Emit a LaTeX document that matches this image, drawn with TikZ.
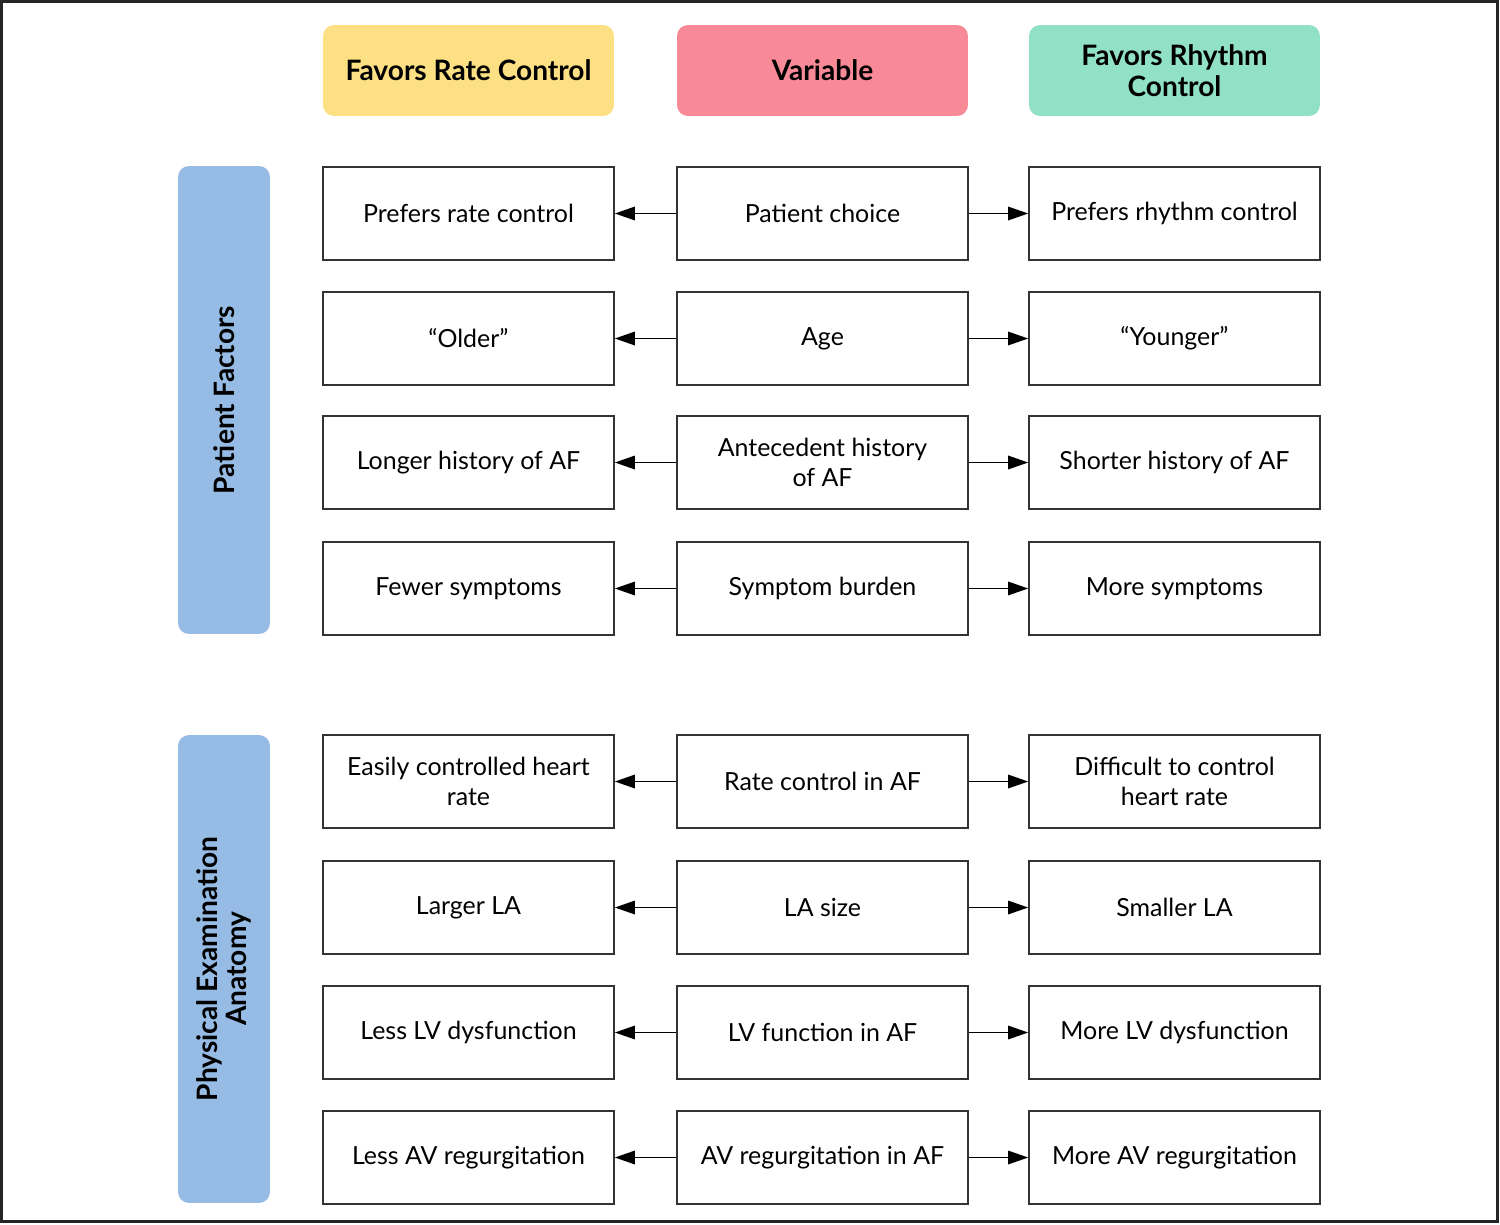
\documentclass[tikz,border=0pt]{standalone}
\usepackage{fontspec}
\setmainfont{Lato}
\usetikzlibrary{arrows.meta}
\definecolor{hyellow}{RGB}{253,224,131}
\definecolor{hpink}{RGB}{247,138,150}
\definecolor{hgreen}{RGB}{145,225,199}
\definecolor{hblue}{RGB}{150,187,229}
\definecolor{boxline}{RGB}{51,51,51}
\tikzset{
  cell/.style={draw=boxline, line width=1pt, fill=white, minimum width=5.82cm, minimum height=1.86cm, align=center, inner sep=0pt, font=\fontsize{14.2}{17}\selectfont},
  head/.style={fill=#1, rounded corners=0.22cm, minimum width=5.82cm, minimum height=1.82cm, align=center, inner sep=0pt, font=\fontsize{16}{17.5}\selectfont\bfseries},
  side/.style={fill=hblue, rounded corners=0.22cm, minimum width=1.84cm, minimum height=9.36cm, inner sep=0pt},
  sidetext/.style={rotate=90, align=center, font=\fontsize{16}{16.5}\selectfont\bfseries},
  conn/.style={line width=0.9pt, draw=black, -{Triangle[length=0.4cm,width=0.27cm]}}
}
\begin{document}
\begin{tikzpicture}[x=0.02cm,y=-0.02cm]
\useasboundingbox (0,0) rectangle (1500,1224);
\draw[line width=1.6pt, draw=black!85] (1.5,1.5) rectangle (1497.5,1221.5);
% headers
\node[head=hyellow] (h1) at (468.5,70.5) {Favors Rate Control};
\node[head=hpink] (h2) at (822.5,70.5) {Variable};
\node[head=hgreen] (h3) at (1174.5,70.5) {Favors Rhythm\\Control};
% side bars
\node[side] (s1) at (224,400) {};
\node[sidetext] (s1t) at (s1.center) {Patient Factors};
\node[side] (s2) at (224,969) {};
\node[sidetext] (s2t) at (s2.center) {Physical Examination\\Anatomy};
% rows
\foreach \i/\y/\l/\m/\r in {
  1/213.5/Prefers rate control/Patient choice/Prefers rhythm control,
  2/338.5/``Older''/Age/``Younger'',
  3/462.5/Longer history of AF/{Antecedent history\\of AF}/Shorter history of AF,
  4/588.5/Fewer symptoms/Symptom burden/More symptoms,
  5/781.5/{Easily controlled heart\\rate}/Rate control in AF/{Difficult to control\\heart rate},
  6/907.5/Larger LA/LA size/Smaller LA,
  7/1032.5/Less LV dysfunction/LV function in AF/More LV dysfunction,
  8/1157.5/Less AV regurgitation/AV regurgitation in AF/More AV regurgitation}{
  \node[cell] (l\i) at (468.5,\y) {\l};
  \node[cell] (m\i) at (822.5,\y) {\m};
  \node[cell] (r\i) at (1174.5,\y) {\r};
  \draw[conn] (m\i.west) -- (l\i.east);
  \draw[conn] (m\i.east) -- (r\i.west);
}
\end{tikzpicture}
\end{document}
